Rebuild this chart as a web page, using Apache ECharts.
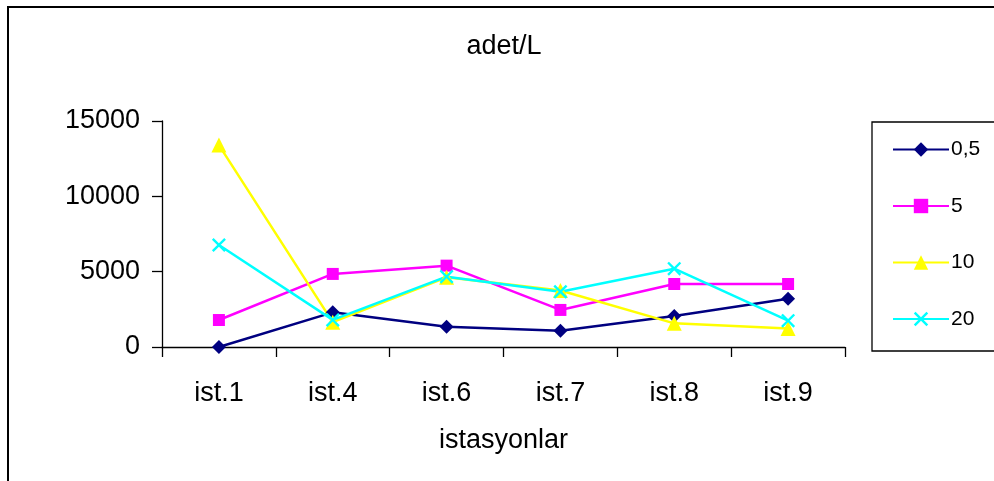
<!DOCTYPE html>
<html>
<head>
<meta charset="utf-8">
<script src="https://cdn.jsdelivr.net/npm/echarts@6/dist/echarts.min.js"></script>
<style>
html,body{margin:0;padding:0;background:#fff;}
#main{width:994px;height:481px;}
</style>
</head>
<body>
<div id="main"></div>
<script>
var categories = ['ist.1', 'ist.4', 'ist.6', 'ist.7', 'ist.8', 'ist.9'];
var seriesNames = ['0,5', '5', '10', '20'];
var s05 = [0, 2300, 1350, 1080, 2060, 3200];
var s5 = [1790, 4850, 5400, 2460, 4180, 4180];
var s10 = [13400, 1650, 4630, 3750, 1570, 1220];
var s20 = [6770, 1800, 4670, 3670, 5200, 1750];
var yTicks = [0, 5000, 10000, 15000];

var xPath = 'path://M0,1.2L1.2,0L5,3.8L8.8,0L10,1.2L6.2,5L10,8.8L8.8,10L5,6.2L1.2,10L0,8.8L3.8,5Z';
var font = 'Arial, "Liberation Sans", sans-serif';

var chart = echarts.init(document.getElementById('main'), null, {renderer: 'canvas'});
function mk(name, data, color, symbol, size) {
  return {
    name: name, type: 'line', data: data,
    symbol: symbol, symbolSize: size, showSymbol: true,
    lineStyle: {color: color, width: 2.5},
    itemStyle: {color: color, borderWidth: 0},
    emphasis: {disabled: true},
    animation: false, z: 3
  };
}
chart.setOption({
  backgroundColor: '#fff',
  animation: false,
  title: {
    text: 'adet/L', left: 504, top: 33, padding: 0, textAlign: 'center',
    textStyle: {fontFamily: font, fontSize: 27, fontWeight: 'normal', color: '#000'}
  },
  graphic: [
    {type: 'rect', shape: {x: 8, y: 7, width: 1100, height: 600}, style: {fill: 'none', stroke: '#000', lineWidth: 2}, z: -10},
    {type: 'rect', shape: {x: 872, y: 122, width: 200, height: 229}, style: {fill: '#fff', stroke: '#000', lineWidth: 1.3}, z: -5}
  ],
  legend: {
    orient: 'vertical', left: 892, top: 139, padding: 0,
    itemWidth: 56, itemHeight: 18, itemGap: 35.5,
    textStyle: {fontFamily: font, fontSize: 21, color: '#000', lineHeight: 20, padding: [0,0,0,-3]},
    data: seriesNames
  },
  grid: {left: 162, right: 149, top: 121, bottom: 134, containLabel: false},
  xAxis: {
    type: 'category', data: categories, boundaryGap: true,
    name: 'istasyonlar', nameLocation: 'middle', nameGap: 80,
    nameTextStyle: {fontFamily: font, fontSize: 27, color: '#000'},
    axisLine: {lineStyle: {color: '#000', width: 1.3}},
    axisTick: {show: true, length: 10, alignWithLabel: false, lineStyle: {color: '#000', width: 1.3}},
    axisLabel: {fontFamily: font, fontSize: 27, color: '#000', margin: 33},
    splitLine: {show: false}
  },
  yAxis: {
    type: 'value', min: 0, max: 15000, interval: 5000,
    axisLine: {show: true, lineStyle: {color: '#000', width: 1.3}},
    axisTick: {show: true, length: 10, inside: false, lineStyle: {color: '#000', width: 1.3}},
    axisLabel: {fontFamily: font, fontSize: 27, color: '#000', margin: 22,
      formatter: function (v) { return yTicks.indexOf(v) >= 0 ? String(v) : ''; }},
    splitLine: {show: false}
  },
  series: [
    mk(seriesNames[0], s05, '#000080', 'diamond', 14),
    mk(seriesNames[1], s5, '#FF00FF', 'rect', 12),
    mk(seriesNames[2], s10, '#FFFF00', 'triangle', 15),
    mk(seriesNames[3], s20, '#00FFFF', xPath, 14)
  ]
});
</script>
</body>
</html>
